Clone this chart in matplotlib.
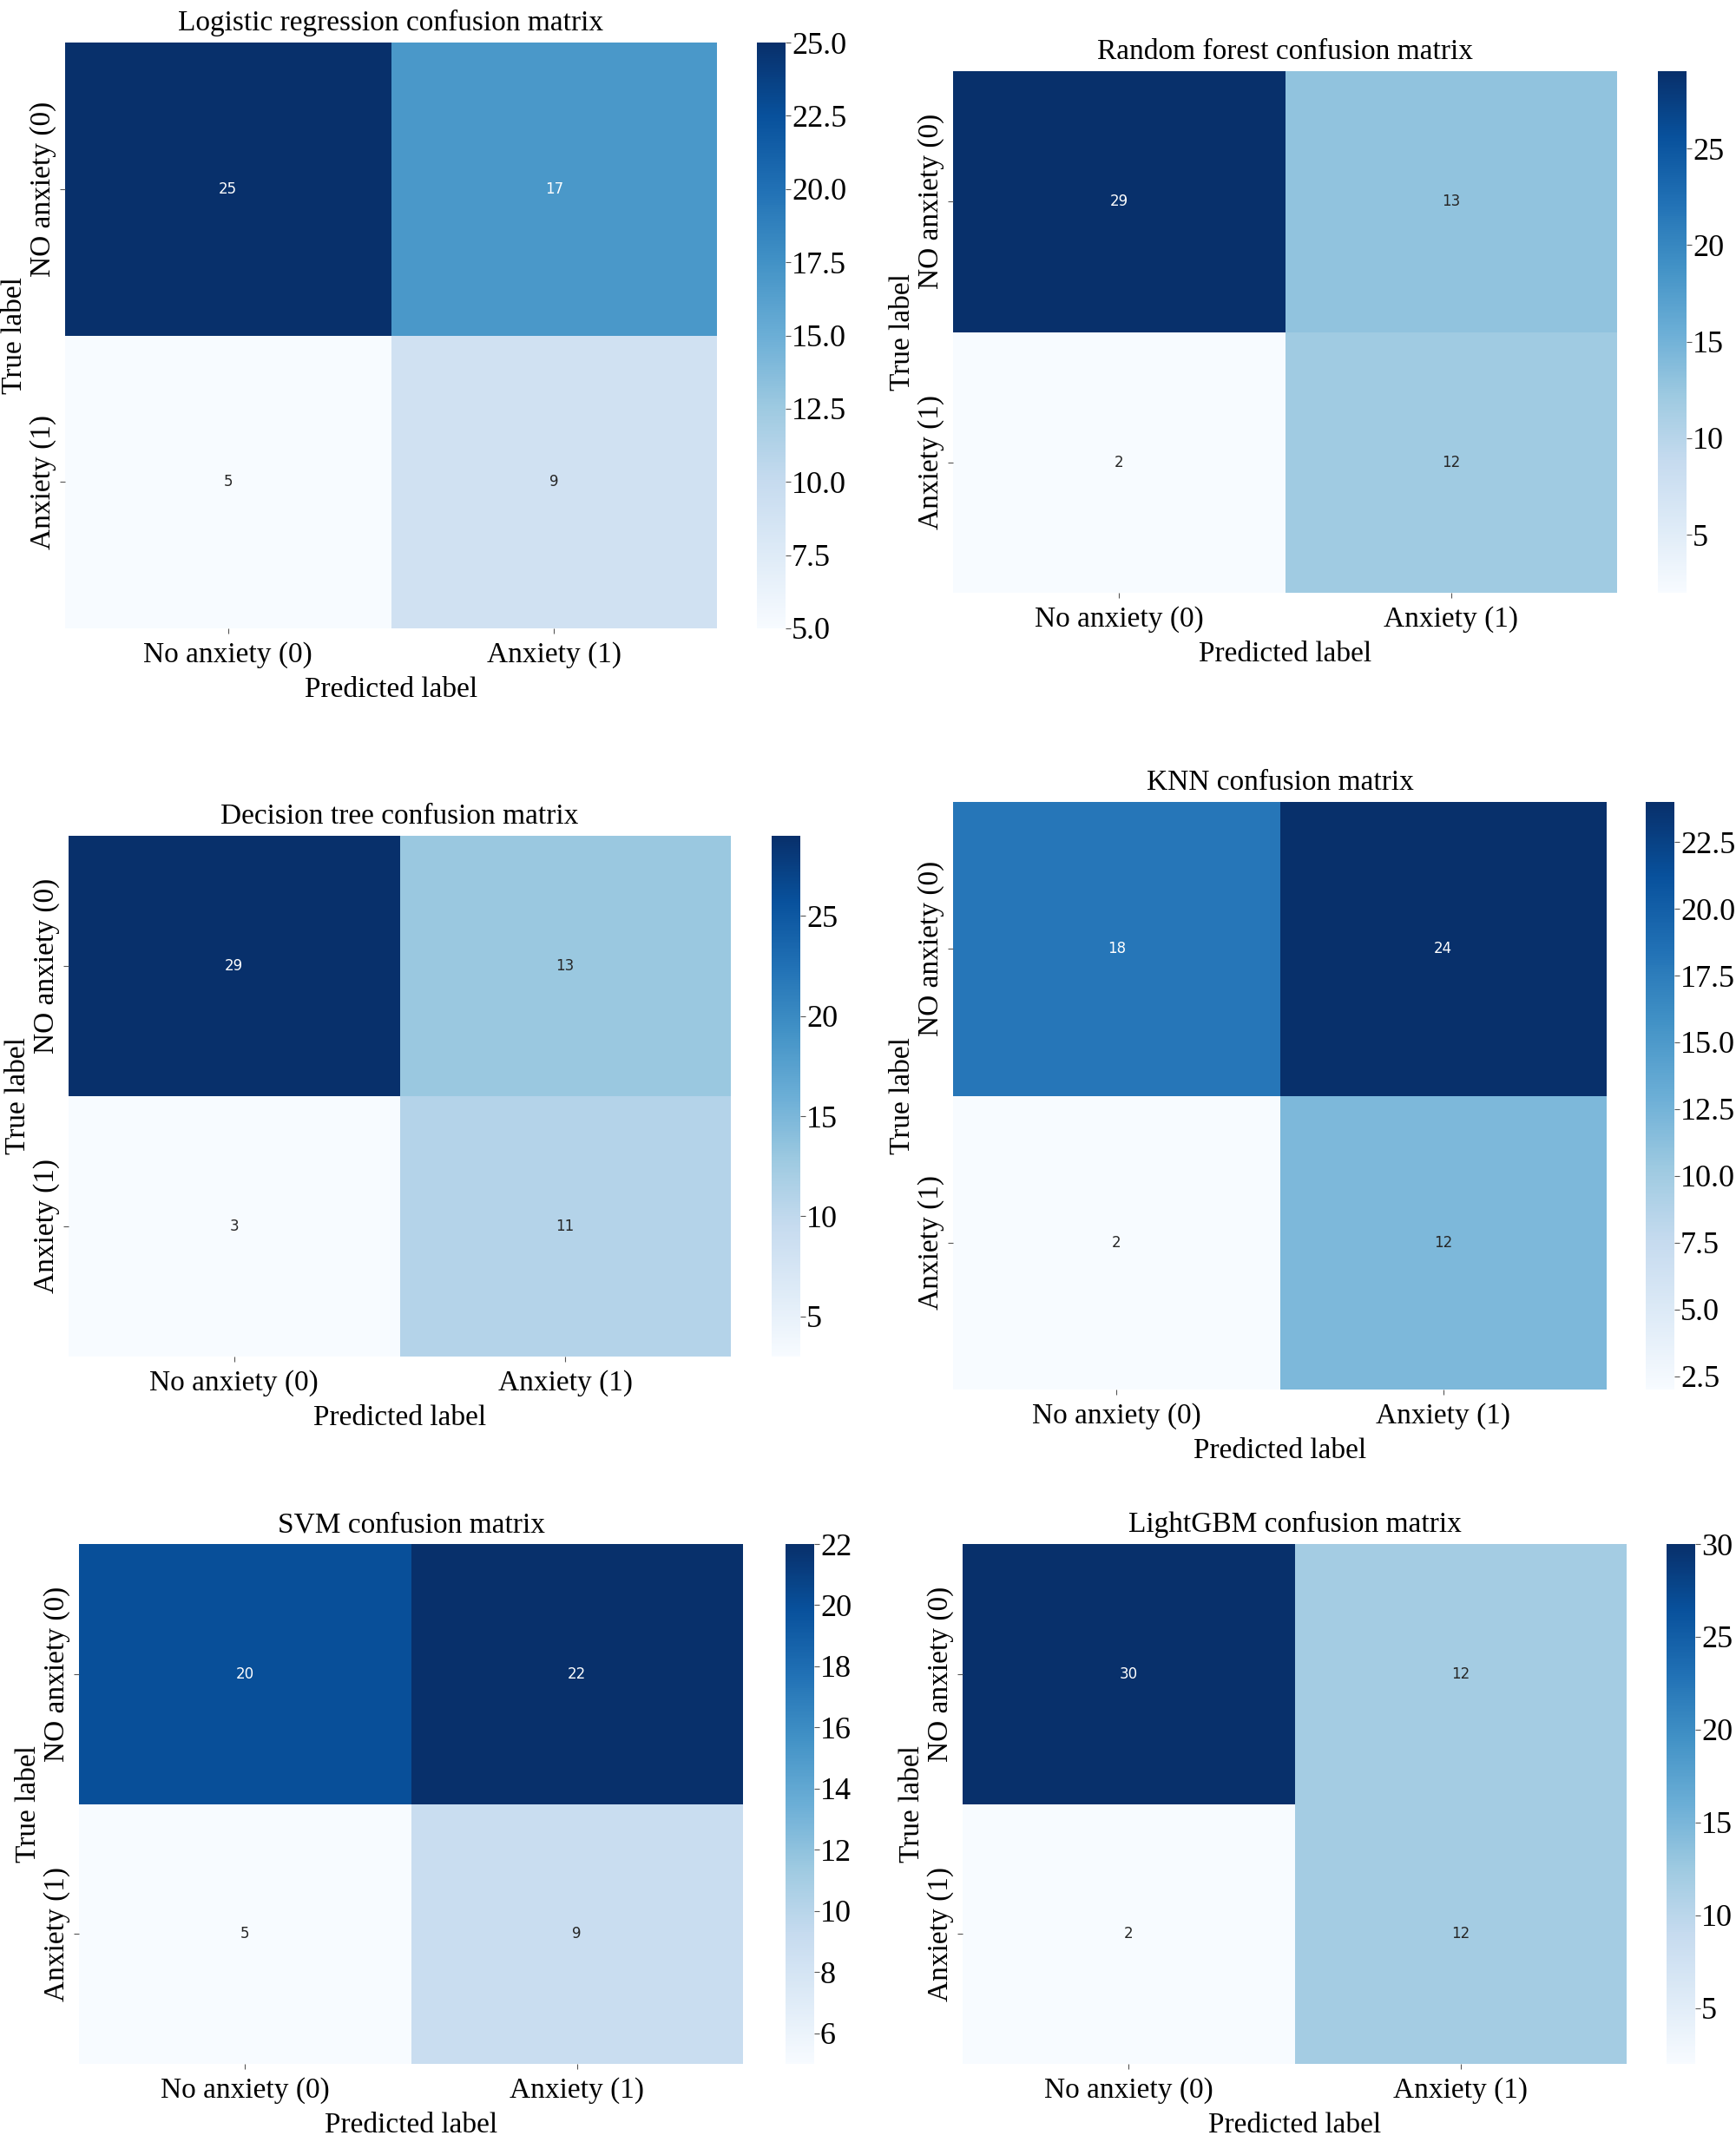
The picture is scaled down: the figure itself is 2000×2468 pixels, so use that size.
import matplotlib
matplotlib.use("Agg")
import matplotlib.pyplot as plt
import numpy as np
import seaborn as sns

plt.rcParams['font.family'] = ['Liberation Serif', 'DejaVu Serif']

# Confusion matrices
titles = [
    "Logistic regression confusion matrix",
    "Random forest confusion matrix",
    "Decision tree confusion matrix",
    "KNN confusion matrix",
    "SVM confusion matrix",
    "LightGBM confusion matrix",
]
cm_logreg = [[25, 17], [5, 9]]
cm_rf = [[29, 13], [2, 12]]
cm_dt = [[29, 13], [3, 11]]
cm_knn = [[18, 24], [2, 12]]
cm_svm = [[20, 22], [5, 9]]
cm_lgbm = [[30, 12], [2, 12]]
matrices = [cm_logreg, cm_rf, cm_dt, cm_knn, cm_svm, cm_lgbm]

x_labels = ["No anxiety (0)", "Anxiety (1)"]
y_labels = ["NO anxiety (0)", "Anxiety (1)"]

# colorbar ticks per panel
cbar_ticks = [
    [5.0, 7.5, 10.0, 12.5, 15.0, 17.5, 20.0, 22.5, 25.0],
    [5, 10, 15, 20, 25],
    [5, 10, 15, 20, 25],
    [2.5, 5.0, 7.5, 10.0, 12.5, 15.0, 17.5, 20.0, 22.5],
    [6, 8, 10, 12, 14, 16, 18, 20, 22],
    [5, 10, 15, 20, 25, 30],
]
cbar_fmt = ["%.1f", "%d", "%d", "%.1f", "%d", "%d"]

# panel layout in pixels: heatmap x0, x1, y0, y1 and colorbar x0, x1
W, H = 2000, 2468
layout = [
    (75, 826, 49, 724, 872, 905),
    (1098, 1863, 82, 683, 1910, 1943),
    (79, 842, 963, 1563, 889, 922),
    (1098, 1851, 924, 1601, 1896, 1929),
    (91, 856, 1779, 2378, 905, 938),
    (1109, 1874, 1779, 2378, 1920, 1953),
]

fig = plt.figure(figsize=(W / 100, H / 100), dpi=100)

for title, cm, ticks, fmt, (x0, x1, y0, y1, c0, c1) in zip(
        titles, matrices, cbar_ticks, cbar_fmt, layout):
    ax = fig.add_axes([x0 / W, 1 - y1 / H, (x1 - x0) / W, (y1 - y0) / H])
    cax = fig.add_axes([c0 / W, 1 - y1 / H, (c1 - c0) / W, (y1 - y0) / H])
    sns.heatmap(np.array(cm), annot=True, fmt="d", cmap="Blues", ax=ax,
                cbar_ax=cax, annot_kws={"fontsize": 12, "family": "DejaVu Sans"},
                xticklabels=x_labels, yticklabels=y_labels)
    ax.set_title(title, fontsize=24, pad=10)
    ax.set_xlabel("Predicted label", fontsize=24, labelpad=7)
    ax.set_ylabel("True label", fontsize=24, labelpad=2)
    ax.tick_params(axis="x", labelsize=24, length=4, pad=7, color="#555555")
    ax.tick_params(axis="y", labelsize=24, length=4, pad=3, color="#555555")
    plt.setp(ax.get_yticklabels(), rotation=90, va="center")
    plt.setp(ax.get_xticklabels(), rotation=0)
    cax.set_yticks(ticks)
    cax.set_yticklabels([fmt % t for t in ticks])
    cax.tick_params(labelsize=26, length=4, pad=1, color="#555555")
    for s in cax.spines.values():
        s.set_visible(False)

fig.savefig("out.png", dpi=100)
